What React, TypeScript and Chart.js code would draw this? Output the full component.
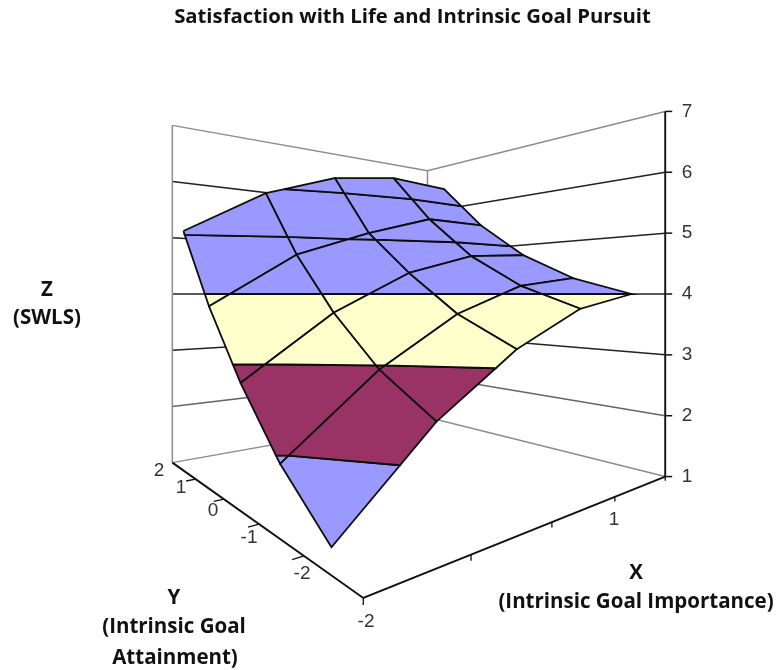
import React, { useEffect, useRef } from "react";
import { Chart, registerables } from "chart.js";

Chart.register(...registerables);

// Surface data: rows run from the back series (Y = 2) to the front series (Y = -2)
const xCategories = [-2, -1, 0, 1, 2];
const yCategories = [2, 1, 0, -1, -2];
const swlsY2 = [5.07, 5.88, 6.35, 6.54, 6.47];
const swlsY1 = [3.81, 4.67, 5.14, 5.52, 5.51];
const swlsY0 = [2.77, 3.71, 4.36, 4.71, 4.79];
const swlsYm1 = [1.92, 2.95, 3.69, 4.14, 4.3];
const swlsYm2 = [1.3, 2.43, 3.23, 3.77, 4.0];
const swlsRows = [swlsY2, swlsY1, swlsY0, swlsYm1, swlsYm2];

const zTicks = [1, 2, 3, 4, 5, 6, 7];
const bandColors = ["#9999FF", "#993366", "#FFFFCC", "#9999FF", "#9999FF", "#9999FF"];

// Projection of the 3-D box (perspective, seen from above)
const FLOOR = 2;
const yDepth = (y: number) => y * 0.8;
const depth = (x: number, y: number) => 0.017111 + 0.00164 * x + 0.00198 * y;
type P3 = [number, number, number];
const project = ([x, y, z]: P3) => {
  const w = depth(x, y);
  return { x: (6.998 + 1.836 * x - 0.13 * y) / w, y: 294 - (z - 4) / w };
};

const clipAbove = (poly: P3[], level: number, sign: number): P3[] => {
  const out: P3[] = [];
  poly.forEach((a, i) => {
    const b = poly[(i + 1) % poly.length];
    const da = sign * (a[2] - level);
    const db = sign * (b[2] - level);
    if (da >= 0) out.push(a);
    if ((da > 0 && db < 0) || (da < 0 && db > 0)) {
      const t = da / (da - db);
      out.push([a[0] + (b[0] - a[0]) * t, a[1] + (b[1] - a[1]) * t, level]);
    }
  });
  return out;
};

const GRID_DARK = "#222222";
const GRID_MID = "#666666";
const GRID_LIGHT = "#8c8c8c";
const AXIS = "#111111";

const lineSet = (pts: P3[], color: string, width: number) => ({
  data: pts.map(project),
  showLine: true,
  borderColor: color,
  borderWidth: width,
  pointRadius: 0,
  fill: false,
  tension: 0,
});

const buildSurface = () => {
  const cells: { far: number; rows: number; cols: number }[] = [];
  for (let r = 0; r < yCategories.length - 1; r++) {
    for (let c = 0; c < xCategories.length - 1; c++) {
      const far = depth(
        (xCategories[c] + xCategories[c + 1]) / 2,
        yDepth((yCategories[r] + yCategories[r + 1]) / 2)
      );
      cells.push({ far, rows: r, cols: c });
    }
  }
  cells.sort((a, b) => b.far - a.far);
  const sets: any[] = [];
  cells.forEach(({ rows: r, cols: c }) => {
    const corner = (ri: number, ci: number): P3 => [
      xCategories[ci],
      yDepth(yCategories[ri]),
      swlsRows[ri][ci],
    ];
    const quad = [corner(r, c), corner(r, c + 1), corner(r + 1, c + 1), corner(r + 1, c)];
    bandColors.forEach((color, b) => {
      const part = clipAbove(clipAbove(quad, zTicks[b], 1), zTicks[b + 1], -1);
      if (part.length < 3) return;
      const pts = part.map(project);
      sets.push({
        data: [...pts, pts[0]],
        showLine: true,
        borderColor: "#0d0d0d",
        borderWidth: 1.8,
        backgroundColor: color,
        fill: "shape",
        pointRadius: 0,
        tension: 0,
      });
    });
  });
  return sets;
};

const buildFrame = () => {
  const sets: any[] = [];
  zTicks.forEach((z) => {
    const color = z === 1 || z === 7 ? GRID_LIGHT : z === 2 ? GRID_MID : GRID_DARK;
    sets.push(lineSet([[-FLOOR, FLOOR, z], [FLOOR, FLOOR, z], [FLOOR, -FLOOR, z]], color, 1.5));
  });
  sets.push(lineSet([[-FLOOR, FLOOR, 1], [-FLOOR, FLOOR, 7]], GRID_LIGHT, 1.5));
  sets.push(lineSet([[FLOOR, FLOOR, 1], [FLOOR, FLOOR, 7]], GRID_LIGHT, 1.5));
  // Front floor edges and the Z axis
  sets.push(lineSet([[-FLOOR, FLOOR, 1], [-FLOOR, -FLOOR, 1], [FLOOR, -FLOOR, 1]], AXIS, 1.9));
  sets.push(lineSet([[FLOOR, -FLOOR, 1], [FLOOR, -FLOOR, 7]], AXIS, 1.9));
  zTicks.forEach((z) => {
    const p = project([FLOOR, -FLOOR, z]);
    sets.push({
      ...lineSet([], AXIS, 1.5),
      data: [{ x: p.x, y: p.y }, { x: p.x + 7, y: p.y }],
    });
  });
  [-2, -1, 0, 1, 2].forEach((x) => {
    sets.push(lineSet([[x, -FLOOR, 1], [x, -FLOOR, 0.93]], AXIS, 1.3));
  });
  [1.2, 0.4, -0.4, -1.2].forEach((y) => {
    sets.push(lineSet([[-FLOOR, y, 1], [-FLOOR - 0.1, y, 1]], AXIS, 1.3));
  });
  return sets;
};

type Label = [string, number, number];
const titleText = "Satisfaction with Life and Intrinsic Goal Pursuit";
const axisTitleLabels: Label[] = [
  ["Z", 47, 290],
  ["(SWLS)", 47, 318],
  ["Y", 174, 598],
  ["(Intrinsic Goal", 174, 627],
  ["Attainment)", 175, 658],
  ["X", 636, 573],
  ["(Intrinsic Goal Importance)", 636, 602],
];
const zTickLabels: Label[] = zTicks.map((z) => [String(z), 687, project([FLOOR, -FLOOR, z]).y]);
const floorTickLabels: Label[] = [
  ["2", 159, 471],
  ["1", 181, 488],
  ["0", 213, 511],
  ["-1", 249, 538],
  ["-2", 302, 574],
  ["-2", 366, 622],
  ["1", 614, 520],
];

const textPlugin = {
  id: "chartText",
  afterDraw(chart: any) {
    const { ctx, scales } = chart;
    const put = ([t, x, y]: Label) =>
      ctx.fillText(t, scales.x.getPixelForValue(x), scales.y.getPixelForValue(y));
    ctx.save();
    ctx.textAlign = "center";
    ctx.textBaseline = "middle";
    ctx.fillStyle = "#111111";
    ctx.font = "bold 20.3px 'Open Sans'";
    put([titleText, 412.5, 17]);
    ctx.font = "bold 20.5px 'Open Sans'";
    axisTitleLabels.forEach(put);
    ctx.font = "19px 'Liberation Sans'";
    ctx.fillStyle = "#333333";
    zTickLabels.forEach(put);
    floorTickLabels.forEach(put);
    ctx.restore();
  },
};

export default function App() {
  const ref = useRef<HTMLCanvasElement>(null);
  useEffect(() => {
    // Chart.js paints lower-index datasets on top, so the drawing order is reversed here
    const datasets = [...buildFrame(), ...buildSurface()].reverse();
    const chart = new Chart(ref.current as HTMLCanvasElement, {
      type: "scatter",
      data: { datasets },
      options: {
        animation: false,
        responsive: false,
        layout: { padding: 0 },
        plugins: { legend: { display: false }, tooltip: { enabled: false } },
        scales: {
          x: { type: "linear", min: 0, max: 776, display: false },
          y: { type: "linear", min: 0, max: 670, reverse: true, display: false },
        },
      },
      plugins: [textPlugin],
    } as any);
    return () => chart.destroy();
  }, []);
  return (
    <div style={{ position: "absolute", left: 0, top: 0, width: 776, height: 670, background: "#fff" }}>
      <canvas ref={ref} width={776} height={670} style={{ display: "block", filter: "blur(0.4px)" }} />
    </div>
  );
}
